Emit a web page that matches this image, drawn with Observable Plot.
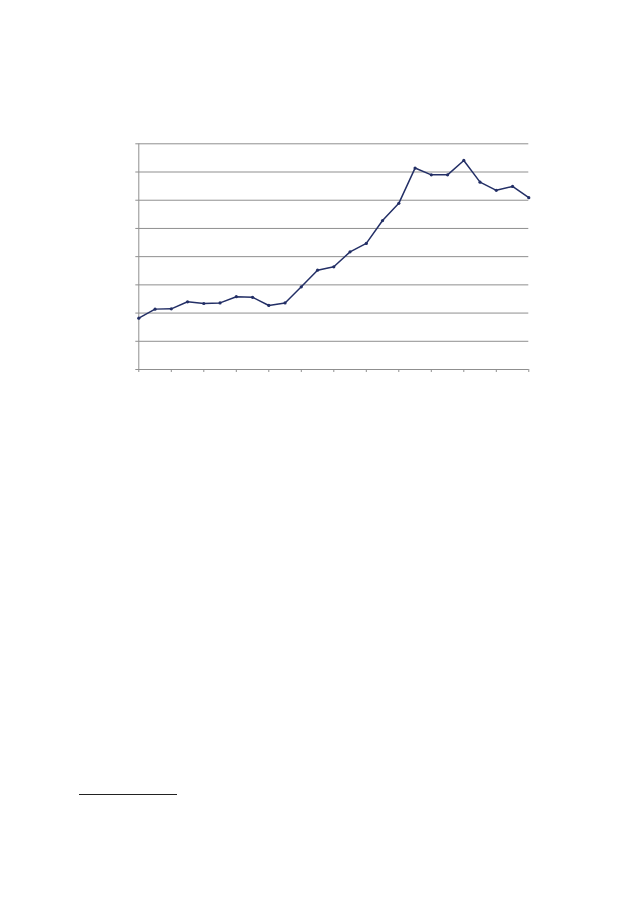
<!DOCTYPE html>
<html>
<head>
<meta charset="utf-8">
<script src="https://cdn.jsdelivr.net/npm/d3@7"></script>
<script src="https://cdn.jsdelivr.net/npm/@observablehq/plot@0.6"></script>
<style>
  html, body { margin: 0; padding: 0; background: #fff; }
  #wrap { position: relative; width: 630px; height: 906px; overflow: hidden; }
  #chart { position: absolute; left: 0; top: 0; }
  #footrule { position: absolute; left: 79px; top: 794px; width: 98px; height: 1px; background: #222; }
</style>
</head>
<body>
<div id="wrap">
  <div id="chart"></div>
  <div id="footrule"></div>
</div>
<script>
// Period index (no labels shown in the original)
const periods = d3.range(25);
// Series values (y-axis 0–8)
const values = [1.82, 2.14, 2.15, 2.40, 2.34, 2.36, 2.58, 2.56, 2.27, 2.36,
                2.93, 3.52, 3.64, 4.17, 4.47, 5.28, 5.89, 7.14, 6.90, 6.90,
                7.41, 6.64, 6.35, 6.49, 6.09];
const yTicks = d3.range(0, 9);
const xTicks = d3.range(0, 25, 2);

const data = periods.map((p, i) => ({ p, v: values[i] }));

const gridColor = "#8f8f8f";
const lineColor = "#232f66";

const chart = Plot.plot({
  width: 630,
  height: 906,
  marginLeft: 138.3,
  marginRight: 101.7,
  marginTop: 143.3,
  marginBottom: 537,
  x: { domain: [0, 24], axis: null },
  y: { domain: [0, 8], axis: null },
  style: { background: "transparent" },
  marks: [
    Plot.gridY(yTicks, { stroke: gridColor, strokeOpacity: 1, strokeWidth: 1 }),
    Plot.axisY(yTicks, { tickSize: 3, tickFormat: () => "", stroke: gridColor, strokeOpacity: 1, label: null }),
    Plot.axisX(xTicks, { tickSize: 3, tickFormat: () => "", stroke: gridColor, strokeOpacity: 1, label: null }),
    Plot.ruleX([0], { stroke: gridColor, strokeWidth: 1 }),
    Plot.ruleY([0], { stroke: gridColor, strokeWidth: 1 }),
    Plot.line(data, { x: "p", y: "v", stroke: lineColor, strokeWidth: 1.5 }),
    Plot.dot(data, { x: "p", y: "v", r: 1.6, fill: lineColor, stroke: "none" })
  ]
});
document.getElementById("chart").appendChild(chart);
</script>
</body>
</html>
